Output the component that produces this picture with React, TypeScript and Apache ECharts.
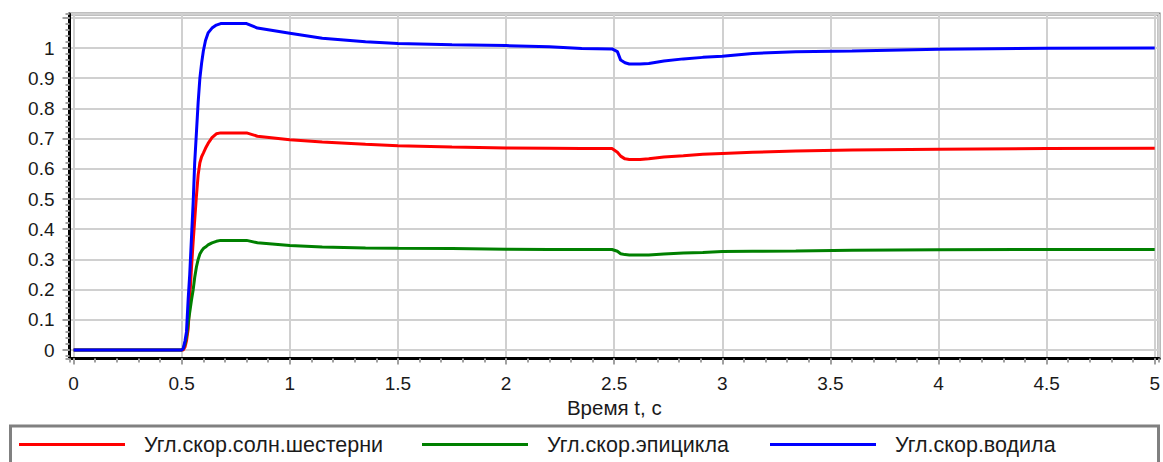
import React, { useEffect, useRef } from "react";
import * as echarts from "echarts";

const timeS = [0, 0.5, 0.507, 0.515, 0.522, 0.53, 0.537, 0.545, 0.553, 0.56, 0.568, 0.576, 0.584, 0.592, 0.6, 0.61, 0.622, 0.64, 0.66, 0.68, 0.8, 0.85, 1.0, 1.15, 1.35, 1.5, 1.75, 2.0, 2.2, 2.35, 2.49, 2.515, 2.53, 2.55, 2.57, 2.62, 2.66, 2.73, 2.82, 2.91, 3.0, 3.14, 3.34, 3.6, 4.0, 4.5, 5.0];

const sunGear = [0, 0, 0, 0.01, 0.03, 0.07, 0.17, 0.27, 0.36, 0.43, 0.51, 0.58, 0.62, 0.64, 0.652, 0.668, 0.684, 0.703, 0.716, 0.719, 0.719, 0.708, 0.696, 0.689, 0.681, 0.676, 0.672, 0.669, 0.668, 0.667, 0.667, 0.655, 0.642, 0.633, 0.631, 0.631, 0.633, 0.639, 0.643, 0.648, 0.651, 0.655, 0.659, 0.662, 0.665, 0.667, 0.668];

const ringGear = [0, 0, 0.005, 0.02, 0.045, 0.09, 0.125, 0.165, 0.2, 0.24, 0.275, 0.3, 0.318, 0.328, 0.336, 0.341, 0.348, 0.355, 0.36, 0.363, 0.363, 0.355, 0.346, 0.341, 0.338, 0.337, 0.336, 0.334, 0.333, 0.333, 0.333, 0.327, 0.319, 0.316, 0.315, 0.315, 0.315, 0.318, 0.321, 0.323, 0.326, 0.327, 0.328, 0.33, 0.332, 0.333, 0.333];

const carrier = [0, 0, 0.005, 0.03, 0.06, 0.17, 0.25, 0.37, 0.49, 0.62, 0.72, 0.82, 0.9, 0.95, 0.99, 1.025, 1.05, 1.066, 1.076, 1.081, 1.081, 1.066, 1.049, 1.032, 1.021, 1.015, 1.011, 1.008, 1.004, 0.998, 0.997, 0.988, 0.96, 0.951, 0.947, 0.947, 0.949, 0.957, 0.964, 0.969, 0.973, 0.982, 0.988, 0.99, 0.996, 0.999, 1.0];

const seriesNames = ["Угл.скор.солн.шестерни", "Угл.скор.эпицикла", "Угл.скор.водила"];
const seriesColors = ["#ff0000", "#008000", "#0000ff"];
const legendLefts = [14, 417, 765];
const xAxisName = "Время t, с";
const yLabelMax = 1;

export default function App() {
  const ref = useRef<HTMLDivElement>(null);
  useEffect(() => {
    const chart = echarts.init(ref.current!, null, { renderer: "svg" });
    const font = "'Liberation Sans', Arial, sans-serif";
    const textColor = "#1a1a1a";
    const tickColor = "#a0a0a0";
    const xMin = -0.019, xMax = 5.02, yMin = -0.028, yMax = 1.1126;
    const allValues = [sunGear, ringGear, carrier];
    const pairs = (vals: number[]) => timeS.map((t, i) => [t, vals[i]]);

    const option: any = {
      animation: false,
      backgroundColor: "#ffffff",
      grid: {
        left: 69.5, right: 2, top: 14, bottom: 103.5,
        show: true, borderColor: "#808080", borderWidth: 3, backgroundColor: "#fff",
      },
      xAxis: [
        {
          type: "value", min: xMin, max: xMax, minInterval: 0.5, maxInterval: 0.5,
          name: xAxisName, nameLocation: "middle", nameGap: 37,
          nameTextStyle: { color: textColor, fontSize: 20.5, fontFamily: font },
          axisLine: { show: true, onZero: false, lineStyle: { color: "#000", width: 3 } },
          axisTick: { show: true, length: 6, lineStyle: { color: tickColor, width: 2 } },
          axisLabel: { showMinLabel: false, showMaxLabel: false, margin: 15, color: textColor, fontSize: 19, fontFamily: font },
          splitLine: { show: true, lineStyle: { color: "#d0d0d0", width: 2 } },
        },
        {
          type: "value", min: xMin, max: xMax, minInterval: 0.1, maxInterval: 0.1, position: "bottom",
          axisLine: { show: false, onZero: false },
          axisTick: { show: true, length: 4, lineStyle: { color: tickColor, width: 2 } },
          axisLabel: { show: false }, splitLine: { show: false },
        },
      ],
      yAxis: [
        {
          type: "value", min: yMin, max: yMax, minInterval: 0.1, maxInterval: 0.1,
          axisLine: { show: true, onZero: false, lineStyle: { color: "#000", width: 3 } },
          axisTick: { show: true, length: 7, lineStyle: { color: tickColor, width: 2 } },
          axisLabel: {
            showMinLabel: false, showMaxLabel: false, margin: 15, color: textColor, fontSize: 19, fontFamily: font,
            formatter: (v: number) => (v > yLabelMax + 1e-9 ? "" : String(v)),
          },
          splitLine: { show: true, lineStyle: { color: "#d0d0d0", width: 2 } },
        },
        {
          type: "value", min: yMin, max: yMax, minInterval: 0.02, maxInterval: 0.02, position: "left",
          axisLine: { show: false, onZero: false },
          axisTick: { show: true, length: 4, lineStyle: { color: tickColor, width: 2 } },
          axisLabel: { show: false }, splitLine: { show: false },
        },
      ],
      legend: seriesNames.map((n, i) => ({
        data: [n], left: legendLefts[i], top: 428.5, icon: "rect",
        itemWidth: 106, itemHeight: 3, selectedMode: false,
        textStyle: { color: textColor, fontSize: 21.5, fontFamily: font, padding: [0, 0, 0, 14] },
      })),
      graphic: [
        {
          type: "rect", shape: { x: 10.5, y: 426, width: 1148, height: 60 },
          style: { fill: "none", stroke: "#808080", lineWidth: 3 }, silent: true,
        },
      ],
      series: seriesNames.map((n, i) => ({
        name: n, type: "line", xAxisIndex: 0, yAxisIndex: 0,
        data: pairs(allValues[i]), showSymbol: false, symbol: "none",
        lineStyle: { color: seriesColors[i], width: 3 }, itemStyle: { color: seriesColors[i] },
        z: 3 + i,
      })),
    };
    chart.setOption(option);
    return () => chart.dispose();
  }, []);
  return <div ref={ref} style={{ position: "fixed", left: 0, top: 0, width: 1163, height: 462 }} />;
}
